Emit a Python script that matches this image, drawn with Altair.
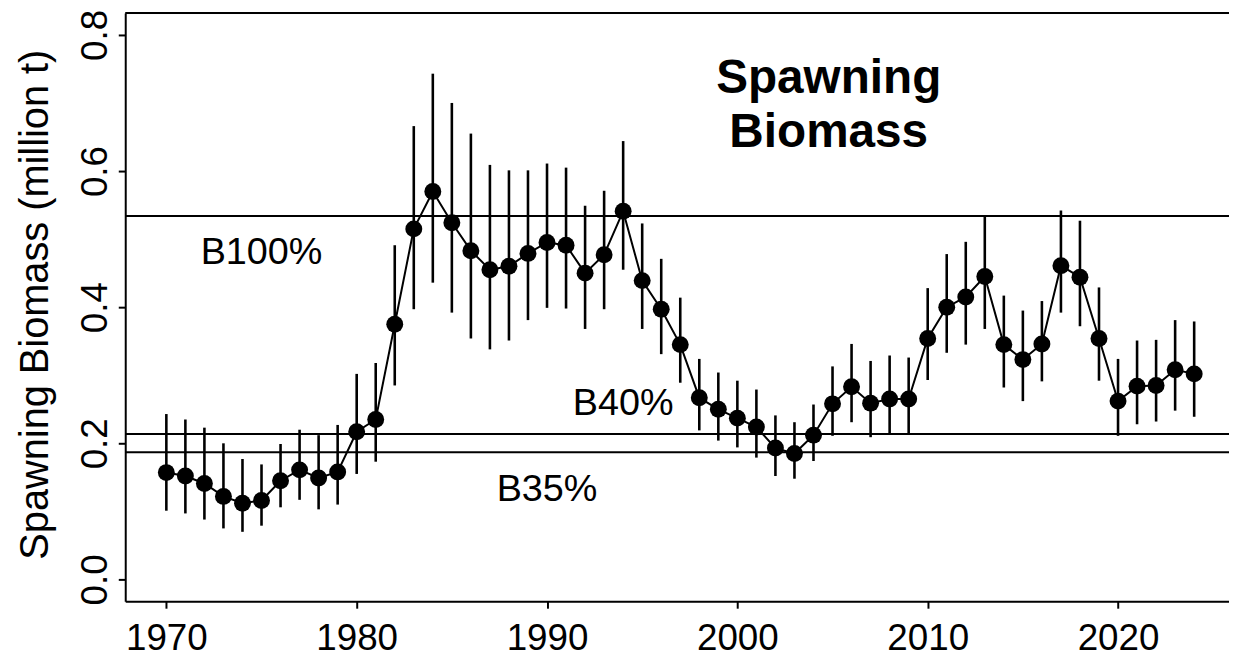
import altair as alt
import pandas as pd

years = list(range(1970, 2025))
ssb = [0.157, 0.152, 0.141, 0.122, 0.112, 0.116, 0.145, 0.161, 0.149, 0.158,
       0.217, 0.235, 0.375, 0.515, 0.570, 0.524, 0.483, 0.455, 0.460, 0.479,
       0.495, 0.491, 0.450, 0.477, 0.541, 0.439, 0.397, 0.345, 0.267, 0.250,
       0.237, 0.224, 0.193, 0.185, 0.212, 0.258, 0.283, 0.259, 0.265, 0.265,
       0.354, 0.400, 0.415, 0.445, 0.345, 0.323, 0.346, 0.461, 0.444, 0.354,
       0.262, 0.284, 0.285, 0.308, 0.302]
lower = [0.101, 0.097, 0.088, 0.075, 0.070, 0.079, 0.106, 0.117, 0.103, 0.110,
         0.155, 0.173, 0.285, 0.397, 0.436, 0.392, 0.354, 0.338, 0.351, 0.381,
         0.399, 0.398, 0.368, 0.397, 0.455, 0.368, 0.331, 0.289, 0.219, 0.204,
         0.194, 0.179, 0.152, 0.148, 0.174, 0.211, 0.231, 0.209, 0.214, 0.214,
         0.293, 0.333, 0.345, 0.368, 0.282, 0.262, 0.291, 0.392, 0.372, 0.292,
         0.211, 0.228, 0.232, 0.248, 0.239]
upper = [0.243, 0.235, 0.223, 0.200, 0.177, 0.169, 0.199, 0.220, 0.212, 0.227,
         0.302, 0.318, 0.491, 0.666, 0.743, 0.700, 0.655, 0.609, 0.601, 0.601,
         0.611, 0.605, 0.549, 0.571, 0.644, 0.523, 0.471, 0.414, 0.324, 0.304,
         0.292, 0.279, 0.241, 0.231, 0.257, 0.313, 0.346, 0.321, 0.329, 0.326,
         0.428, 0.478, 0.496, 0.534, 0.417, 0.395, 0.409, 0.542, 0.527, 0.429,
         0.324, 0.351, 0.352, 0.381, 0.379]

ref_names = ["B100%", "B40%", "B35%"]
ref_values = [0.534, 0.2136, 0.1869]
ref_label_x = [1975, 1994, 1990]
ref_label_y = [0.479, 0.258, 0.131]

title_text = "Spawning\nBiomass"
title_x = [2004.8]
title_y = [0.735]

x_ticks = [1970, 1980, 1990, 2000, 2010, 2020]
y_ticks = [0.0, 0.2, 0.4, 0.6, 0.8]

df = pd.DataFrame({"year": years, "ssb": ssb, "lo": lower, "hi": upper})
refs = pd.DataFrame({"name": ref_names, "value": ref_values})
ref_labels = pd.DataFrame({"name": ref_names, "year": ref_label_x, "ssb": ref_label_y})
title_df = pd.DataFrame({"label": [title_text], "year": title_x, "ssb": title_y})

FONT = "Liberation Sans"
W, H = 1111, 592

xscale = alt.Scale(domain=[1967.84, 2025.83], nice=False, zero=False)
yscale = alt.Scale(domain=[-0.032, 0.832], nice=False, zero=False)

xaxis = alt.Axis(values=x_ticks, format="d", title=None, grid=False,
                 labelFontSize=37, labelFont=FONT, labelColor="black",
                 labelBaseline="alphabetic", labelPadding=42,
                 tickSize=7, tickWidth=2, tickColor="black",
                 domainColor="black", domainWidth=2, labelFlush=False,
                 labelOverlap=False)
yaxis = alt.Axis(values=y_ticks, format=".1f", grid=False,
                 title="Spawning Biomass (million t)",
                 titleFont=FONT, titleFontSize=40, titleFontWeight="normal",
                 titleColor="black", titleAngle=270, titleAlign="center",
                 titleBaseline="alphabetic", titleX=-78, titleY=293,
                 labelFontSize=37, labelFont=FONT, labelColor="black",
                 labelAngle=270, labelAlign="center", labelBaseline="alphabetic",
                 labelPadding=12, tickSize=7, tickWidth=2, tickColor="black",
                 domainColor="black", domainWidth=2, labelFlush=False,
                 labelOverlap=False)


def X(field):
    return alt.X(field, type="quantitative", scale=xscale, axis=xaxis)


def Y(field):
    return alt.Y(field, type="quantitative", scale=yscale, axis=yaxis)


hlines = alt.Chart(refs).mark_rule(color="black", strokeWidth=2).encode(
    y=Y("value"))

top_border = alt.Chart(pd.DataFrame({"k": [0]})).mark_rule(
    color="black", strokeWidth=2).encode(
    x=alt.value(0), x2=alt.value(W), y=alt.value(0))

errbars = alt.Chart(df).mark_rule(color="black", strokeWidth=2.6).encode(
    x=X("year"), y=Y("lo"), y2="hi")

line = alt.Chart(df).mark_line(color="black", strokeWidth=2).encode(
    x=X("year"), y=Y("ssb"))

points = alt.Chart(df).mark_circle(color="black", opacity=1, size=290).encode(
    x=X("year"), y=Y("ssb"))

labels = alt.Chart(ref_labels).mark_text(
    font=FONT, fontSize=38, color="black", align="center", baseline="middle"
).encode(x=X("year"), y=Y("ssb"), text="name:N")

title = alt.Chart(title_df).mark_text(
    font=FONT, fontSize=48, fontWeight="bold", color="black",
    align="center", baseline="middle", lineBreak="\n", lineHeight=54
).encode(x=X("year"), y=Y("ssb"), text="label:N")

chart = alt.layer(hlines, top_border, errbars, line, points, labels, title).properties(
    width=W, height=H,
    autosize=alt.AutoSizeParams(type="none"),
    padding={"left": 118, "top": 3, "right": 0, "bottom": 56},
).configure_view(stroke=None).configure(background="white")

chart.save("out.html", embed_options={"renderer": "svg", "actions": False})
